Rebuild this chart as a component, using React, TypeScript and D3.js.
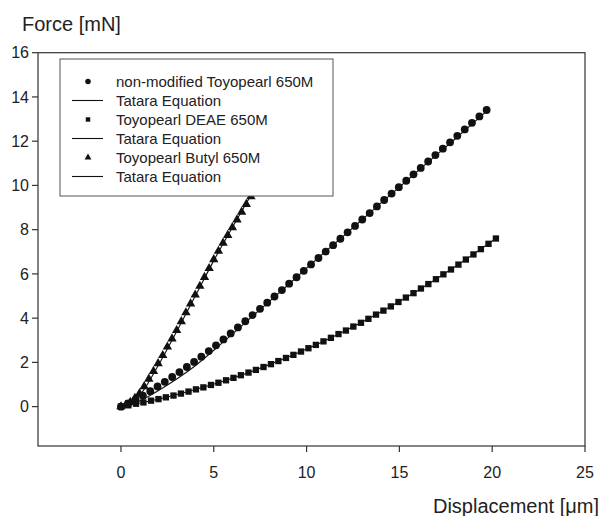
import React, { useRef, useEffect } from 'react';
import * as d3 from 'd3';

// measured points, [displacement um, force mN]
const nonModified = [
  [0.0, 0.0], [0.39, 0.14], [0.79, 0.31], [1.18, 0.5], [1.58, 0.7], [1.97, 0.91],
  [2.36, 1.12], [2.76, 1.34], [3.15, 1.56], [3.55, 1.79], [3.94, 2.02], [4.33, 2.26],
  [4.73, 2.51], [5.12, 2.77], [5.52, 3.04], [5.91, 3.31], [6.3, 3.58], [6.7, 3.86],
  [7.09, 4.14], [7.49, 4.42], [7.88, 4.7], [8.27, 4.98], [8.67, 5.27], [9.06, 5.56],
  [9.46, 5.85], [9.85, 6.14], [10.24, 6.43], [10.64, 6.72], [11.03, 7.01], [11.43, 7.3],
  [11.82, 7.59], [12.21, 7.88], [12.61, 8.17], [13.0, 8.46], [13.4, 8.75], [13.79, 9.05],
  [14.18, 9.34], [14.58, 9.63], [14.97, 9.92], [15.37, 10.21], [15.76, 10.5], [16.15, 10.79],
  [16.55, 11.08], [16.94, 11.37], [17.34, 11.66], [17.73, 11.95], [18.12, 12.24], [18.52, 12.53],
  [18.91, 12.83], [19.31, 13.12], [19.7, 13.41]
];

const deae = [
  [0.0, 0.0], [0.4, 0.06], [0.81, 0.13], [1.21, 0.19], [1.62, 0.27], [2.02, 0.34],
  [2.42, 0.42], [2.83, 0.5], [3.23, 0.59], [3.64, 0.68], [4.04, 0.78], [4.44, 0.87],
  [4.85, 0.98], [5.25, 1.08], [5.66, 1.19], [6.06, 1.3], [6.46, 1.42], [6.87, 1.54],
  [7.27, 1.66], [7.68, 1.79], [8.08, 1.92], [8.48, 2.06], [8.89, 2.2], [9.29, 2.34],
  [9.7, 2.49], [10.1, 2.64], [10.5, 2.79], [10.91, 2.95], [11.31, 3.11], [11.72, 3.28],
  [12.12, 3.44], [12.52, 3.62], [12.93, 3.79], [13.33, 3.97], [13.74, 4.16], [14.14, 4.34],
  [14.54, 4.53], [14.95, 4.73], [15.35, 4.93], [15.76, 5.13], [16.16, 5.34], [16.56, 5.54],
  [16.97, 5.76], [17.37, 5.98], [17.78, 6.2], [18.18, 6.42], [18.58, 6.65], [18.99, 6.88],
  [19.39, 7.12], [19.8, 7.36], [20.2, 7.6]
];

const butyl = [
  [0.0, 0.0], [0.25, 0.07], [0.5, 0.2], [0.75, 0.38], [1.0, 0.6], [1.25, 0.91],
  [1.5, 1.25], [1.75, 1.6], [2.0, 1.95], [2.25, 2.32], [2.5, 2.7], [2.75, 3.07],
  [3.0, 3.45], [3.25, 3.85], [3.5, 4.25], [3.75, 4.65], [4.0, 5.05], [4.25, 5.45],
  [4.5, 5.85], [4.75, 6.25], [5.0, 6.65], [5.25, 7.03], [5.5, 7.4], [5.75, 7.75],
  [6.0, 8.1], [6.25, 8.45], [6.5, 8.8], [6.75, 9.15], [7.0, 9.5], [7.25, 9.85],
  [7.5, 10.2], [7.75, 10.55], [8.0, 10.9]
];

// fitted Tatara curves
const tataraNonModified = [
  [0, 0], [1, 0.25], [2, 0.72], [3, 1.25], [4, 1.85], [5, 2.55], [6, 3.28], [7, 4.02],
  [8, 4.76], [9, 5.5], [10, 6.26], [11, 7.0], [12, 7.72], [13, 8.46], [14, 9.2],
  [15, 9.92], [16, 10.66], [17, 11.38], [18, 12.1], [19, 12.84], [19.7, 13.36]
];
const tataraDeae = [
  [0, 0], [2, 0.33], [4, 0.77], [6, 1.28], [8, 1.9], [10, 2.6], [12, 3.4],
  [14, 4.28], [16, 5.25], [18, 6.32], [20.2, 7.6]
];
const tataraButyl = [
  [0, 0], [1, 0.5], [2, 1.85], [3, 3.4], [4, 5.0], [5, 6.6], [6, 8.1], [7, 9.55], [8, 11.0]
];

const xTicks = [0, 5, 10, 15, 20, 25];
const yTicks = [0, 2, 4, 6, 8, 10, 12, 14, 16];

const legendItems = [
  { label: 'non-modified Toyopearl 650M', kind: 'circle' },
  { label: 'Tatara Equation', kind: 'line' },
  { label: 'Toyopearl DEAE 650M', kind: 'square' },
  { label: 'Tatara Equation', kind: 'line' },
  { label: 'Toyopearl Butyl 650M', kind: 'triangle' },
  { label: 'Tatara Equation', kind: 'line' }
];

function App() {
  const ref = useRef(null);

  useEffect(() => {
    const svg = d3.select(ref.current);
    svg.selectAll('*').remove();

    const font = "'Liberation Sans', Arial, Helvetica, sans-serif";
    const left = 38, right = 585, top = 52.7, bottom = 446;

    const x = d3.scaleLinear().domain([-4.47, 25]).range([left, right]);
    const y = d3.scaleLinear().domain([-1.78, 16]).range([bottom, top]);

    // frame
    svg.append('rect')
      .attr('x', left).attr('y', top)
      .attr('width', right - left).attr('height', bottom - top)
      .attr('fill', 'none').attr('stroke', '#333').attr('stroke-width', 1.2);

    // x ticks
    const xAxis = svg.append('g').attr('font-family', font).attr('font-size', 16);
    xAxis.selectAll('line').data(xTicks).enter().append('line')
      .attr('x1', d => x(d)).attr('x2', d => x(d))
      .attr('y1', bottom).attr('y2', bottom + 6)
      .attr('stroke', '#333').attr('stroke-width', 1.2);
    xAxis.selectAll('text').data(xTicks).enter().append('text')
      .attr('x', d => x(d)).attr('y', 478)
      .attr('text-anchor', 'middle').attr('fill', '#222')
      .text(d => d);

    // y ticks
    const yAxis = svg.append('g').attr('font-family', font).attr('font-size', 16);
    yAxis.selectAll('line').data(yTicks).enter().append('line')
      .attr('x1', left - 6).attr('x2', left)
      .attr('y1', d => y(d)).attr('y2', d => y(d))
      .attr('stroke', '#333').attr('stroke-width', 1.2);
    yAxis.selectAll('text').data(yTicks).enter().append('text')
      .attr('x', 29).attr('y', d => y(d))
      .attr('dy', '0.36em')
      .attr('text-anchor', 'end').attr('fill', '#222')
      .text(d => d);

    svg.append('text')
      .attr('x', 22).attr('y', 31)
      .attr('font-family', font).attr('font-size', 20).attr('fill', '#222')
      .text('Force [mN]');

    svg.append('text')
      .attr('x', 599).attr('y', 513)
      .attr('text-anchor', 'end')
      .attr('font-family', font).attr('font-size', 20).attr('fill', '#222')
      .text('Displacement [μm]');

    // Tatara lines
    const line = d3.line().curve(d3.curveMonotoneX).x(d => x(d[0])).y(d => y(d[1]));
    [tataraNonModified, tataraDeae, tataraButyl].forEach(s => {
      svg.append('path').attr('d', line(s))
        .attr('fill', 'none').attr('stroke', '#111').attr('stroke-width', 1.1);
    });

    // markers
    const circleSym = d3.symbol().type(d3.symbolCircle).size(48);
    const squareSym = d3.symbol().type(d3.symbolSquare).size(40);
    const triSym = d3.symbol().type(d3.symbolTriangle).size(38);

    const drawPoints = (data, sym) => {
      svg.append('g').selectAll('path').data(data).enter().append('path')
        .attr('d', sym)
        .attr('transform', d => `translate(${x(d[0])},${y(d[1])})`)
        .attr('fill', '#111');
    };
    drawPoints(butyl, triSym);
    drawPoints(deae, squareSym);
    drawPoints(nonModified, circleSym);

    // legend
    const lg = svg.append('g');
    lg.append('rect')
      .attr('x', 60).attr('y', 59).attr('width', 273).attr('height', 137)
      .attr('fill', '#fff').attr('stroke', '#555').attr('stroke-width', 1);

    const rows = lg.selectAll('g.row').data(legendItems).enter().append('g')
      .attr('class', 'row')
      .attr('transform', (d, i) => `translate(0,${81.5 + i * 19})`);

    rows.append('text')
      .attr('x', 116).attr('dy', '0.36em')
      .attr('font-family', font).attr('font-size', 15).attr('fill', '#222')
      .text(d => d.label);

    rows.filter(d => d.kind === 'line').append('line')
      .attr('x1', 72).attr('x2', 103)
      .attr('stroke', '#111').attr('stroke-width', 1.1);

    const legendSym = {
      circle: d3.symbol().type(d3.symbolCircle).size(24),
      square: d3.symbol().type(d3.symbolSquare).size(20),
      triangle: d3.symbol().type(d3.symbolTriangle).size(20)
    };
    rows.filter(d => d.kind !== 'line').append('path')
      .attr('d', d => legendSym[d.kind]())
      .attr('transform', 'translate(88,0)')
      .attr('fill', '#111');
  }, []);

  return (
    <svg ref={ref} width={605} height={516}
      style={{ position: 'absolute', left: 0, top: 0, background: '#fff' }} />
  );
}

export default App;
